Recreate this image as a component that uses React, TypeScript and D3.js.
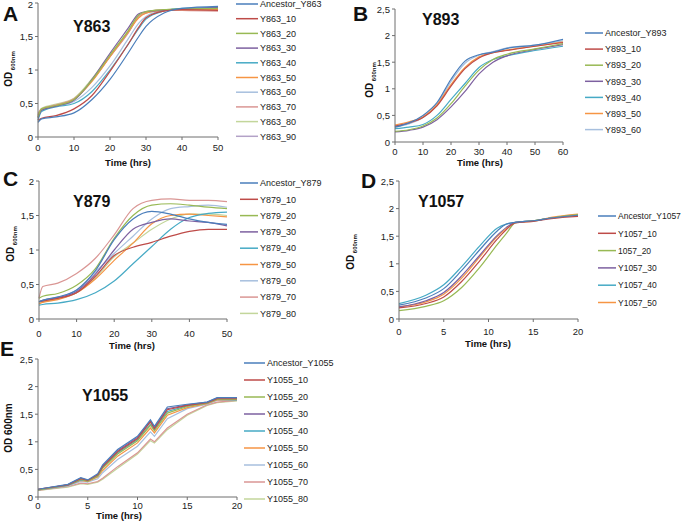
import React from 'react'
import * as d3 from 'd3'

// Excel-style series colours
const palette = ['#4a7ebb', '#be4b48', '#98b954', '#7d60a0', '#46aac5', '#f69544', '#a7bfde', '#da9694', '#c3d69b', '#b3a2c7']

// A - Y863
const timeA = [0, 1, 5, 10, 15, 20, 25, 28, 30, 35, 40, 50]
const namesA = ['Ancestor_Y863', 'Y863_10', 'Y863_20', 'Y863_30', 'Y863_40', 'Y863_50', 'Y863_60', 'Y863_70', 'Y863_80', 'Y863_90']
const odA = [
  [0.22, 0.27, 0.30, 0.36, 0.56, 0.86, 1.25, 1.50, 1.65, 1.85, 1.92, 1.95],
  [0.25, 0.28, 0.32, 0.42, 0.62, 0.98, 1.38, 1.64, 1.78, 1.88, 1.90, 1.89],
  [0.30, 0.42, 0.47, 0.56, 0.85, 1.22, 1.58, 1.82, 1.87, 1.90, 1.91, 1.92],
  [0.28, 0.40, 0.46, 0.55, 0.86, 1.25, 1.62, 1.84, 1.87, 1.89, 1.91, 1.93],
  [0.25, 0.38, 0.45, 0.50, 0.68, 1.00, 1.38, 1.62, 1.76, 1.88, 1.92, 1.93],
  [0.32, 0.41, 0.47, 0.56, 0.83, 1.20, 1.56, 1.78, 1.85, 1.89, 1.90, 1.90],
  [0.30, 0.40, 0.46, 0.53, 0.74, 1.06, 1.46, 1.70, 1.80, 1.89, 1.91, 1.92],
  [0.35, 0.42, 0.48, 0.57, 0.84, 1.20, 1.55, 1.80, 1.86, 1.90, 1.89, 1.88],
  [0.33, 0.43, 0.49, 0.58, 0.87, 1.23, 1.58, 1.82, 1.87, 1.90, 1.91, 1.90],
  [0.30, 0.41, 0.47, 0.56, 0.84, 1.20, 1.55, 1.80, 1.85, 1.89, 1.90, 1.91]
]

// B - Y893
const timeB = [0, 5, 10, 15, 20, 25, 30, 35, 40, 50, 60]
const namesB = ['Ancestor_Y893', 'Y893_10', 'Y893_20', 'Y893_30', 'Y893_40', 'Y893_50', 'Y893_60']
const odB = [
  [0.28, 0.36, 0.50, 0.74, 1.18, 1.52, 1.64, 1.69, 1.76, 1.82, 1.93],
  [0.30, 0.36, 0.46, 0.68, 1.05, 1.38, 1.58, 1.68, 1.72, 1.80, 1.87],
  [0.20, 0.23, 0.30, 0.45, 0.72, 1.05, 1.35, 1.55, 1.65, 1.75, 1.85],
  [0.19, 0.22, 0.28, 0.42, 0.66, 0.95, 1.28, 1.50, 1.62, 1.74, 1.83],
  [0.25, 0.28, 0.33, 0.50, 0.80, 1.10, 1.40, 1.55, 1.62, 1.72, 1.80],
  [0.32, 0.38, 0.47, 0.70, 1.08, 1.40, 1.60, 1.68, 1.73, 1.80, 1.88],
  [0.28, 0.34, 0.46, 0.70, 1.14, 1.48, 1.63, 1.70, 1.77, 1.82, 1.90]
]

// C - Y879
const timeC = [0, 1, 5, 10, 15, 20, 25, 30, 35, 40, 45, 50]
const namesC = ['Ancestor_Y879', 'Y879_10', 'Y879_20', 'Y879_30', 'Y879_40', 'Y879_50', 'Y879_60', 'Y879_70', 'Y879_80']
const odC = [
  [0.25, 0.27, 0.32, 0.42, 0.70, 1.15, 1.45, 1.56, 1.52, 1.45, 1.40, 1.37],
  [0.25, 0.26, 0.30, 0.38, 0.62, 0.92, 1.04, 1.11, 1.20, 1.27, 1.30, 1.30],
  [0.30, 0.33, 0.37, 0.49, 0.73, 1.17, 1.50, 1.65, 1.67, 1.65, 1.62, 1.60],
  [0.25, 0.27, 0.31, 0.40, 0.65, 1.00, 1.30, 1.40, 1.45, 1.42, 1.40, 1.35],
  [0.20, 0.21, 0.23, 0.28, 0.38, 0.55, 0.80, 1.05, 1.30, 1.47, 1.53, 1.55],
  [0.22, 0.24, 0.28, 0.38, 0.58, 0.85, 1.10, 1.38, 1.50, 1.52, 1.50, 1.48],
  [0.25, 0.27, 0.31, 0.42, 0.68, 0.95, 1.20, 1.45, 1.60, 1.63, 1.65, 1.62],
  [0.30, 0.47, 0.52, 0.66, 0.88, 1.22, 1.60, 1.72, 1.74, 1.72, 1.72, 1.70],
  [0.23, 0.25, 0.29, 0.38, 0.60, 0.90, 1.10, 1.30, 1.45, 1.52, 1.52, 1.50]
]

// D - Y1057
const timeD = [0, 3, 5, 7, 9, 11, 12, 13, 15, 17, 20]
const namesD = ['Ancestor_Y1057', 'Y1057_10', '1057_20', 'Y1057_30', 'Y1057_40', 'Y1057_50']
const odD = [
  [0.25, 0.38, 0.55, 0.88, 1.25, 1.60, 1.72, 1.75, 1.78, 1.83, 1.88],
  [0.20, 0.28, 0.40, 0.68, 1.05, 1.45, 1.62, 1.74, 1.77, 1.82, 1.86],
  [0.15, 0.23, 0.33, 0.57, 0.93, 1.35, 1.55, 1.74, 1.78, 1.83, 1.89],
  [0.22, 0.33, 0.48, 0.78, 1.15, 1.52, 1.66, 1.75, 1.78, 1.83, 1.88],
  [0.28, 0.43, 0.62, 0.95, 1.32, 1.65, 1.72, 1.75, 1.78, 1.83, 1.88],
  [0.22, 0.31, 0.45, 0.74, 1.12, 1.50, 1.64, 1.75, 1.77, 1.84, 1.90]
]

// E - Y1055
const timeE = [0, 3, 4.3, 5, 6, 6.5, 8, 10, 11.3, 11.7, 13, 15, 17, 18, 20]
const namesE = ['Ancestor_Y1055', 'Y1055_10', 'Y1055_20', 'Y1055_30', 'Y1055_40', 'Y1055_50', 'Y1055_60', 'Y1055_70', 'Y1055_80']
const odE = [
  [0.14, 0.23, 0.35, 0.31, 0.42, 0.58, 0.86, 1.10, 1.40, 1.28, 1.63, 1.68, 1.72, 1.80, 1.80],
  [0.14, 0.22, 0.33, 0.30, 0.40, 0.55, 0.82, 1.06, 1.36, 1.24, 1.58, 1.66, 1.71, 1.78, 1.78],
  [0.13, 0.22, 0.32, 0.29, 0.38, 0.52, 0.78, 1.02, 1.30, 1.20, 1.52, 1.64, 1.70, 1.77, 1.77],
  [0.14, 0.22, 0.34, 0.30, 0.40, 0.56, 0.84, 1.08, 1.38, 1.26, 1.60, 1.67, 1.72, 1.79, 1.79],
  [0.13, 0.21, 0.31, 0.29, 0.38, 0.53, 0.80, 1.04, 1.32, 1.22, 1.55, 1.65, 1.70, 1.77, 1.76],
  [0.13, 0.21, 0.30, 0.28, 0.36, 0.48, 0.74, 0.98, 1.25, 1.16, 1.48, 1.62, 1.69, 1.76, 1.76],
  [0.13, 0.20, 0.28, 0.27, 0.33, 0.44, 0.68, 0.92, 1.18, 1.10, 1.42, 1.60, 1.68, 1.75, 1.75],
  [0.12, 0.19, 0.25, 0.24, 0.28, 0.34, 0.55, 0.80, 1.05, 1.00, 1.25, 1.50, 1.67, 1.72, 1.75],
  [0.12, 0.18, 0.24, 0.23, 0.27, 0.32, 0.52, 0.78, 1.02, 0.98, 1.22, 1.48, 1.66, 1.71, 1.74]
]

const font = 'Arial, "Liberation Sans", sans-serif'
const axisColor = '#6f6f6f'

function comma (v: number) {
  return String(v).replace('.', ',')
}

function Panel (props: any) {
  const {
    left, right, top, bottom, xMax, xStep, yMax, times, names, values, smooth,
    letter, letterX, letterY, title, titleX, titleY, tickY, timeX, timeY,
    yLabelX, yLabelY, sub, legendX, legendY, legendStep, legendLen, legendFont = 9
  } = props

  const x = d3.scaleLinear().domain([0, xMax]).range([left, right])
  const y = d3.scaleLinear().domain([0, yMax]).range([bottom, top])
  const line = d3.line<number>()
    .x((d, i) => x(times[i]))
    .y(d => y(d))
    .curve(smooth ? d3.curveMonotoneX : d3.curveLinear)

  const xTicks = d3.range(0, xMax + 0.001, xStep)
  const yTicks = d3.range(0, yMax + 0.001, 0.5)

  return (
    <g fontFamily={font}>
      {/* series, drawn last-to-first so the ancestor sits on top */}
      {values.map((v: number[], i: number) => i).reverse().map((i: number) => (
        <path key={i} d={line(values[i]) || ''} fill='none' stroke={palette[i]} strokeWidth={1.2} />
      ))}

      <line x1={left} x2={left} y1={top} y2={bottom} stroke={axisColor} />
      <line x1={left} x2={right} y1={bottom} y2={bottom} stroke={axisColor} />
      {yTicks.map(t => (
        <g key={'y' + t}>
          <line x1={left - 3} x2={left} y1={y(t)} y2={y(t)} stroke={axisColor} />
          <text x={left - 5} y={Math.max(y(t) + 3.5, 8)} textAnchor='end' fontSize={9.5} fill='#222'>{comma(t)}</text>
        </g>
      ))}
      {xTicks.map(t => (
        <g key={'x' + t}>
          <line x1={x(t)} x2={x(t)} y1={bottom} y2={bottom + 3} stroke={axisColor} />
          <text x={x(t)} y={tickY} textAnchor='middle' fontSize={9.5} fill='#222'>{t}</text>
        </g>
      ))}

      <text x={timeX} y={timeY} textAnchor='middle' fontSize={9.5} fontWeight='bold' fill='#111'>Time (hrs)</text>
      <text transform={`translate(${yLabelX},${yLabelY}) rotate(-90)`} textAnchor='middle' fontSize={10} fontWeight='bold' fill='#111'>
        {sub
          ? <>OD<tspan fontSize={6} dy={3}> 600nm</tspan></>
          : 'OD 600nm'}
      </text>

      <text x={letterX} y={letterY} fontSize={21} fontWeight='bold' fill='#111'>{letter}</text>
      <text x={titleX} y={titleY} fontSize={16} fontWeight='bold' fill='#111'>{title}</text>

      {names.map((n: string, i: number) => {
        const ly = legendY + i * legendStep
        return (
          <g key={n}>
            <line x1={legendX} x2={legendX + legendLen} y1={ly} y2={ly} stroke={palette[i]} strokeWidth={1.5} />
            <text x={legendX + legendLen + 2} y={ly + 3.2} fontSize={legendFont} fill='#222'>{n}</text>
          </g>
        )
      })}
    </g>
  )
}

export default function App () {
  return (
    <div style={{ position: 'absolute', left: 0, top: 0 }}>
      <svg width={683} height={521} style={{ display: 'block', background: '#fff' }}>
        <Panel
          left={38} right={218} top={3} bottom={137} xMax={50} xStep={10} yMax={2}
          times={timeA} names={namesA} values={odA} smooth
          letter='A' letterX={3} letterY={21} title='Y863' titleX={73} titleY={32}
          tickY={151} timeX={128} timeY={166} yLabelX={12} yLabelY={69} sub
          legendX={236} legendY={4} legendStep={14.7} legendLen={22}
        />
        <Panel
          left={395} right={563} top={9} bottom={142} xMax={60} xStep={10} yMax={2.5}
          times={timeB} names={namesB} values={odB} smooth
          letter='B' letterX={353} letterY={21} title='Y893' titleX={422} titleY={25}
          tickY={155} timeX={480} timeY={166} yLabelX={373} yLabelY={80} sub
          legendX={585} legendY={33} legendStep={16.1} legendLen={18}
        />
        <Panel
          left={39} right={227} top={181} bottom={319} xMax={50} xStep={10} yMax={2}
          times={timeC} names={namesC} values={odC} smooth
          letter='C' letterX={3} letterY={186} title='Y879' titleX={73} titleY={207}
          tickY={337} timeX={132} timeY={349} yLabelX={14} yLabelY={244} sub
          legendX={240} legendY={183} legendStep={16.3} legendLen={18}
        />
        <Panel
          left={399} right={578} top={181} bottom={319} xMax={20} xStep={5} yMax={2.5}
          times={timeD} names={namesD} values={odD} smooth
          letter='D' letterX={361} letterY={188} title='Y1057' titleX={418} titleY={207}
          tickY={335} timeX={488} timeY={347} yLabelX={354} yLabelY={252} sub
          legendX={598} legendY={216} legendStep={17.3} legendLen={18} legendFont={8.5}
        />
        <Panel
          left={38} right={237} top={359} bottom={497} xMax={20} xStep={5} yMax={2.5}
          times={timeE} names={namesE} values={odE} smooth={false}
          letter='E' letterX={0} letterY={356} title='Y1055' titleX={82} titleY={401}
          tickY={509} timeX={119} timeY={519} yLabelX={12} yLabelY={428} sub={false}
          legendX={244} legendY={363} legendStep={17} legendLen={21}
        />
      </svg>
    </div>
  )
}
